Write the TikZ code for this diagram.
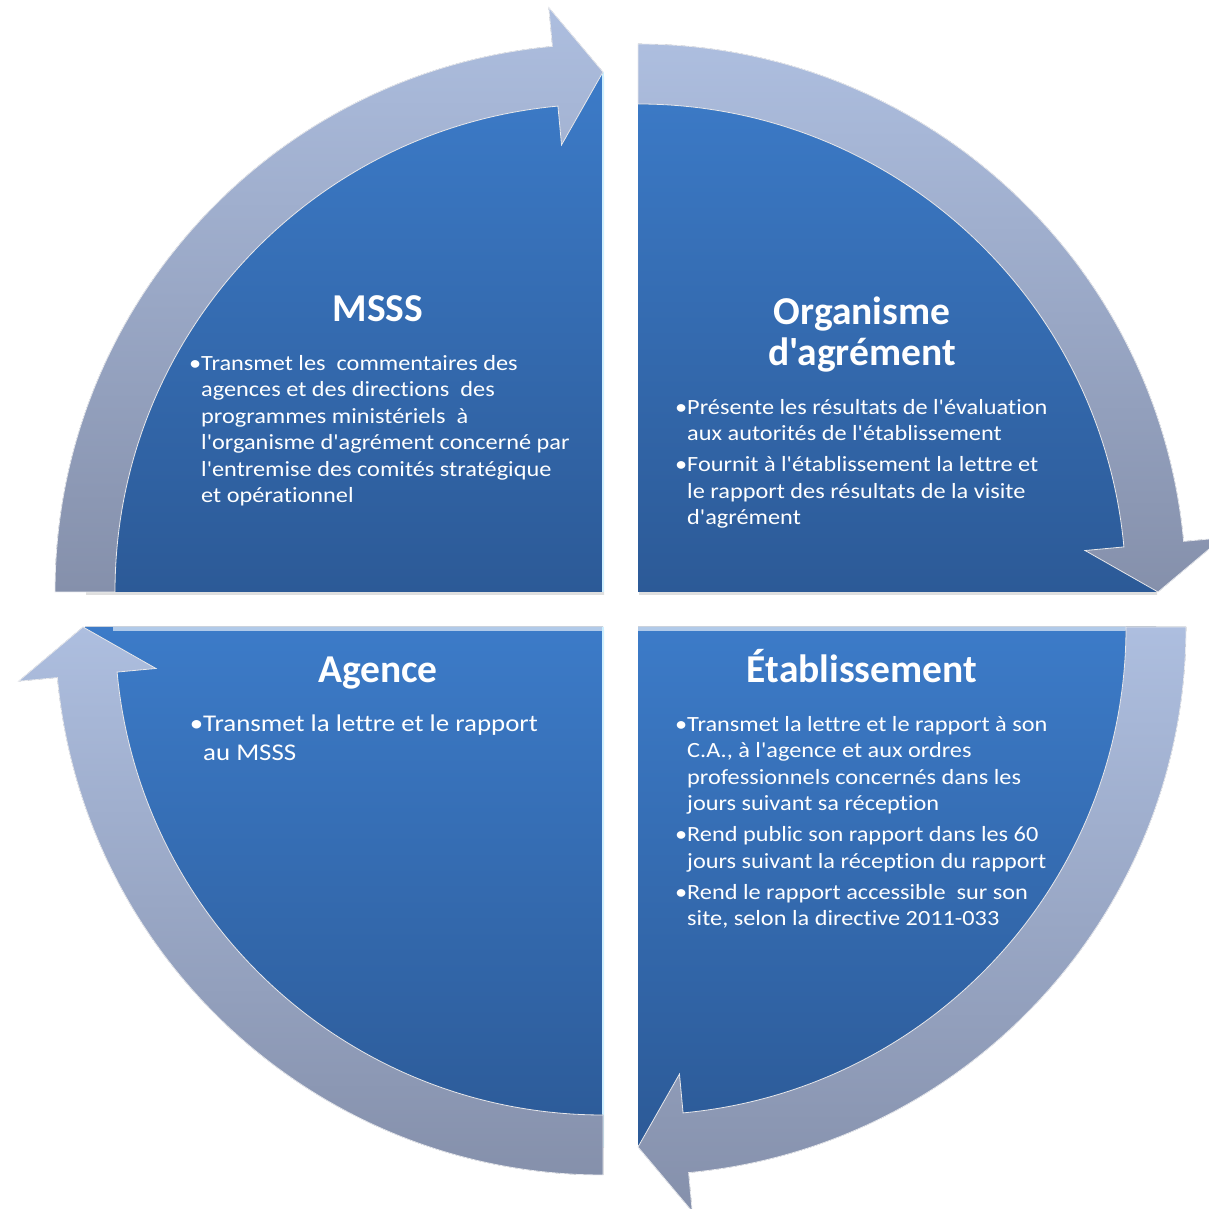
\documentclass[tikz,border=0pt]{standalone}
\usepackage{fontspec}
\setmainfont{Carlito}[Ligatures={TeXOff,NoCommon}]
\newfontfamily\corps{Carlito}[Ligatures={TeXOff,NoCommon}, FakeStretch=1.12]
\usetikzlibrary{shadows}

\definecolor{secteurhaut}{HTML}{3C7BC8}
\definecolor{secteurbas}{HTML}{2C5A97}
\definecolor{flechehaut}{HTML}{ADBEDF}
\definecolor{flechebas}{HTML}{8590AB}
\definecolor{reflet}{HTML}{CDEFFF}

\begin{document}
\begin{tikzpicture}[x=1pt, y=1pt,
    secteur/.style={top color=secteurhaut, bottom color=secteurbas,
        drop shadow={shadow xshift=1pt, shadow yshift=-3pt, opacity=0.25}},
    fleche/.style={top color=flechehaut, bottom color=flechebas, draw=white!80!flechebas, line width=0.8pt},
    titre/.style={text=white, font=\fontsize{39.5}{41}\selectfont\bfseries, align=center, inner sep=0pt},
    texte/.style={text=white, font=\corps\fontsize{21.7}{26.5}\selectfont, align=left, anchor=north west, inner sep=0pt},
    grand/.style={texte, font=\corps\fontsize{24}{29}\selectfont}]
        \useasboundingbox (0,0) rectangle (1208,1209);

        % Secteurs et fleches
        % MSSS : haut gauche
        \begin{scope}[shift={(603,617)}]
            \fill[secteur] (0,0) -- (180:518pt) arc[start angle=180, end angle=90, radius=518pt] -- cycle;
            \draw[reflet, line width=2pt] (0,0) -- (0,520);
            \filldraw[fleche] (180:548pt) arc[start angle=180, end angle=95.3, radius=548pt]
                -- (95.3:587pt) -- (90:520pt) -- (95.3:449pt) -- (95.3:488pt)
                arc[start angle=95.3, end angle=180, radius=488pt] -- cycle;
        \end{scope}
        % Organisme d'agrement : haut droite
        \begin{scope}[shift={(638,617)}]
            \fill[secteur] (0,0) -- (90:518pt) arc[start angle=90, end angle=0, radius=518pt] -- cycle;
            \filldraw[fleche] (90:548pt) arc[start angle=90, end angle=5.3, radius=548pt]
                -- (5.3:587pt) -- (0:520pt) -- (5.3:449pt) -- (5.3:488pt)
                arc[start angle=5.3, end angle=90, radius=488pt] -- cycle;
        \end{scope}
        % Etablissement : bas droite
        \begin{scope}[shift={(638,582)}]
            \fill[secteur] (0,0) -- (0:518pt) arc[start angle=0, end angle=-90, radius=518pt] -- cycle;
            \draw[white!60!secteurhaut, line width=4pt] (0,-2) -- (490,-2);
            \filldraw[fleche] (0:548pt) arc[start angle=0, end angle=-84.7, radius=548pt]
                -- (-84.7:587pt) -- (-90:520pt) -- (-84.7:449pt) -- (-84.7:488pt)
                arc[start angle=-84.7, end angle=0, radius=488pt] -- cycle;
        \end{scope}
        % Agence : bas gauche
        \begin{scope}[shift={(603,582)}]
            \fill[secteur] (0,0) -- (270:518pt) arc[start angle=270, end angle=180, radius=518pt] -- cycle;
            \draw[white!60!secteurhaut, line width=4pt] (0,-2) -- (-490,-2);
            \draw[reflet, line width=2pt] (0,0) -- (0,-520);
            \filldraw[fleche] (270:548pt) arc[start angle=270, end angle=185.3, radius=548pt]
                -- (185.3:587pt) -- (180:520pt) -- (185.3:449pt) -- (185.3:488pt)
                arc[start angle=185.3, end angle=270, radius=488pt] -- cycle;
        \end{scope}

        % Titres
        \node[titre, anchor=base] at (378, 887) (msss) {MSSS};
        \node[titre, anchor=north] at (862, 912) (organisme) {Organisme\\d'agrément};
        \node[titre, anchor=base] at (378, 526) (agence) {Agence};
        \node[titre, anchor=base] at (862, 526) (etab) {Établissement};

        % Textes
        \node[texte] at (201, 854) (msss-txt) {\llap{•}Transmet les\ \ commentaires des\\
            agences et des directions\ \ des\\
            programmes ministériels\ \ à\\
            l'organisme d'agrément concerné par\\
            l'entremise des comités stratégique\\
            et opérationnel};
        \node[texte] at (687, 810) (organisme-txt) {\llap{•}Présente les résultats de l'évaluation\\
            aux autorités de l'établissement\\[4.5pt]
            \llap{•}Fournit à l'établissement la lettre et\\
            le rapport des résultats de la visite\\
            d'agrément};
        \node[grand] at (203, 494) (agence-txt) {\llap{•}Transmet la lettre et le rapport\\
            au MSSS};
        \node[texte] at (687, 493) (etab-txt) {\llap{•}Transmet la lettre et le rapport à son\\
            C.A., à l'agence et aux ordres\\
            professionnels concernés dans les\\
            jours suivant sa réception\\[4.5pt]
            \llap{•}Rend public son rapport dans les 60\\
            jours suivant la réception du rapport\\[4.5pt]
            \llap{•}Rend le rapport accessible\ \ sur son\\
            site, selon la directive 2011-033};

    \end{tikzpicture}
\end{document}
